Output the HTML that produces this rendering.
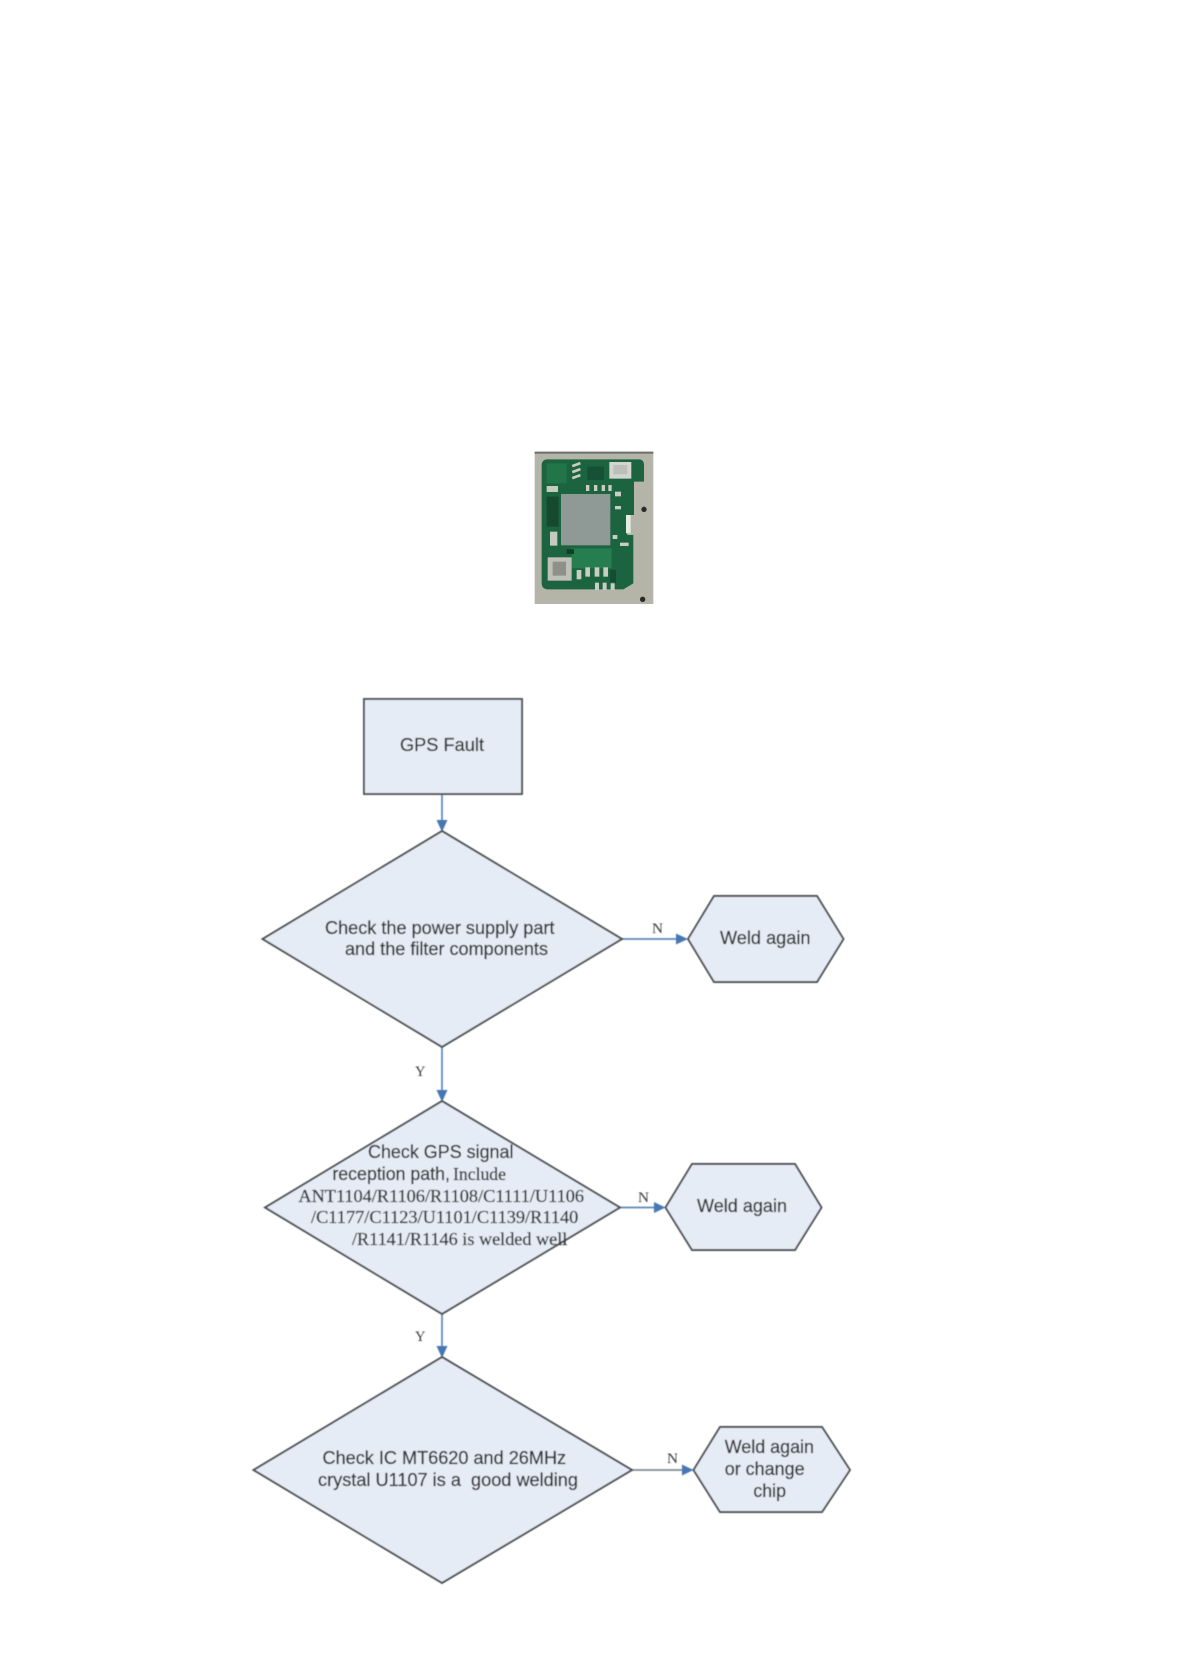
<!DOCTYPE html>
<html>
<head>
<meta charset="utf-8">
<title>GPS Fault flowchart</title>
<style>
html,body{margin:0;padding:0;background:#fff;}
svg{display:block;}
.s{font-family:"Liberation Sans",sans-serif;font-size:18px;fill:#33373b;stroke:#33373b;stroke-width:.3;}
.r{font-family:"Liberation Serif",serif;font-size:18px;fill:#33373b;stroke:#33373b;stroke-width:.3;}
.l{font-family:"Liberation Serif",serif;font-size:15px;fill:#3a3a3a;}
.shape{fill:#e6ecf5;stroke:#4c4f52;stroke-width:1.9;}
.line{stroke:#5b86b8;stroke-width:1.7;fill:none;}
.head{fill:#4677b3;}
</style>
</head>
<body>
<svg width="1188" height="1680" viewBox="0 0 1188 1680" xmlns="http://www.w3.org/2000/svg">
<defs>
<filter id="b" x="-5%" y="-5%" width="110%" height="110%"><feGaussianBlur stdDeviation="0.5"/></filter>
<filter id="c" x="-5%" y="-5%" width="110%" height="110%"><feGaussianBlur stdDeviation="1.1"/></filter>
</defs>
<rect width="1188" height="1680" fill="#fff"/>

<!-- module photo drawn with shapes -->
<g transform="translate(500,420) scale(0.3333)" filter="url(#c)">
<rect x="104" y="95" width="356" height="457" fill="#b4b5a8"/>
<rect x="104" y="95" width="356" height="6" fill="#6d6f66"/>
<path d="M140 118 H420 Q432 120 432 135 V185 H402 V285 H382 V345 H400 V490 L370 508 H140 Q125 505 125 490 V135 Q125 120 140 118 Z" fill="#1a6340"/>
<rect x="140" y="130" width="60" height="60" fill="#2a7d4f" opacity=".7"/>
<rect x="215" y="385" width="120" height="60" fill="#2a8352" opacity=".8"/>
<rect x="328" y="126" width="66" height="50" fill="#d3d5cf"/>
<rect x="340" y="135" width="42" height="28" fill="#bcbfba"/>
<rect x="183" y="222" width="148" height="154" fill="#8f9996"/>
<rect x="143" y="412" width="72" height="70" fill="#bfc1b8"/>
<rect x="158" y="425" width="40" height="42" fill="#8e918a"/>
<rect x="140" y="198" width="34" height="18" fill="#c5cbbd"/>
<rect x="150" y="335" width="22" height="42" fill="#c4cabd"/>
<rect x="378" y="285" width="14" height="55" fill="#e6ece0"/>
<g fill="#c9cdc2">
<rect x="216" y="130" width="26" height="8" transform="rotate(-20 229 134)"/>
<rect x="216" y="148" width="26" height="8" transform="rotate(-20 229 152)"/>
<rect x="216" y="166" width="26" height="8" transform="rotate(-20 229 170)"/>
<rect x="258" y="195" width="10" height="18"/><rect x="282" y="195" width="10" height="18"/><rect x="305" y="195" width="10" height="18"/><rect x="325" y="195" width="10" height="18"/>
<rect x="345" y="215" width="18" height="14"/><rect x="345" y="258" width="18" height="10"/>
<rect x="230" y="450" width="14" height="28"/><rect x="256" y="442" width="14" height="28"/><rect x="284" y="442" width="14" height="28"/><rect x="310" y="442" width="14" height="28"/>
<rect x="285" y="488" width="12" height="22"/><rect x="308" y="488" width="12" height="22"/><rect x="332" y="488" width="12" height="22"/>
<rect x="360" y="368" width="26" height="10"/>
<rect x="338" y="345" width="14" height="12"/>
</g>
<g fill="#0f3f28">
<rect x="140" y="230" width="36" height="90" opacity=".7"/>
<rect x="200" y="388" width="22" height="14"/>
<rect x="262" y="140" width="50" height="40" opacity=".5"/>
<rect x="330" y="450" width="18" height="40" opacity=".6"/>
</g>
<circle cx="432" cy="268" r="8" fill="#2a2a26"/>
<circle cx="428" cy="538" r="8" fill="#2a2a26"/>
</g>

<g filter="url(#b)">
<!-- connectors -->
<path class="line" d="M442 794V822"/>
<path class="head" d="M436.500 820H447.500L442 832Z"/>
<path class="line" d="M622 939H678"/>
<path class="head" d="M676 933.500V944.500L688 939Z"/>
<path class="line" d="M442 1047V1092"/>
<path class="head" d="M436.500 1090H447.500L442 1102Z"/>
<path class="line" d="M620 1207.500H655"/>
<path class="head" d="M654 1202V1213L665.500 1207.500Z"/>
<path class="line" d="M442 1314V1347"/>
<path class="head" d="M436.500 1346H447.500L442 1358Z"/>
<path d="M632 1470H683" fill="none" stroke="#7d8a98" stroke-width="1.7"/>
<path class="head" d="M682 1464.500V1475.500L693.500 1470Z"/>

<!-- shapes -->
<rect class="shape" x="364" y="699" width="158" height="95"/>
<polygon class="shape" points="442,831 622,939 442,1047 262.500,939"/>
<polygon class="shape" points="688,939 714,896 817,896 843.500,939 817,982 714,982"/>
<polygon class="shape" points="442,1101 620,1207.500 442,1314 265,1207.500"/>
<polygon class="shape" points="665.500,1207.500 692,1164 795,1164 821.500,1207.500 795,1250 692,1250"/>
<polygon class="shape" points="442,1357 632,1470 442,1583 253.500,1470"/>
<polygon class="shape" points="693.500,1470 720,1427 822,1427 850,1470 822,1512 720,1512"/>

<!-- text -->
<text class="s" x="400" y="751" textLength="84" lengthAdjust="spacingAndGlyphs">GPS Fault</text>
<text class="s" x="325" y="934" textLength="229.500" lengthAdjust="spacingAndGlyphs">Check the power supply part</text>
<text class="s" x="345" y="955" textLength="203" lengthAdjust="spacingAndGlyphs">and the filter components</text>
<text class="s" x="720" y="944" textLength="90.500" lengthAdjust="spacingAndGlyphs">Weld again</text>
<text class="l" x="652" y="933" textLength="11" lengthAdjust="spacingAndGlyphs">N</text>
<text class="l" x="415" y="1076" textLength="10.500" lengthAdjust="spacingAndGlyphs">Y</text>

<text class="s" x="368" y="1158" textLength="145.500" lengthAdjust="spacingAndGlyphs">Check GPS signal</text>
<text class="s" x="332.400" y="1180" textLength="117.500" lengthAdjust="spacingAndGlyphs">reception path,</text>
<text class="r" x="453" y="1180" textLength="53" lengthAdjust="spacingAndGlyphs">Include</text>
<text class="r" x="298.400" y="1202" textLength="285.600" lengthAdjust="spacingAndGlyphs">ANT1104/R1106/R1108/C1111/U1106</text>
<text class="r" x="311" y="1223" textLength="267.300" lengthAdjust="spacingAndGlyphs">/C1177/C1123/U1101/C1139/R1140</text>
<text class="r" x="352" y="1245" textLength="215.300" lengthAdjust="spacingAndGlyphs">/R1141/R1146 is welded well</text>
<text class="l" x="638" y="1202" textLength="11" lengthAdjust="spacingAndGlyphs">N</text>
<text class="l" x="415" y="1341" textLength="10.500" lengthAdjust="spacingAndGlyphs">Y</text>
<text class="s" x="697" y="1212" textLength="90" lengthAdjust="spacingAndGlyphs">Weld again</text>

<text class="s" x="322.500" y="1464" textLength="243.600" lengthAdjust="spacingAndGlyphs">Check IC MT6620 and 26MHz</text>
<text class="s" x="318" y="1486" textLength="260" lengthAdjust="spacingAndGlyphs" xml:space="preserve">crystal U1107 is a  good welding</text>
<text class="l" x="667" y="1463" textLength="11" lengthAdjust="spacingAndGlyphs">N</text>
<text class="s" x="724.700" y="1453" textLength="89.300" lengthAdjust="spacingAndGlyphs">Weld again</text>
<text class="s" x="724.700" y="1475" textLength="80" lengthAdjust="spacingAndGlyphs">or change</text>
<text class="s" x="753.400" y="1497" textLength="32.600" lengthAdjust="spacingAndGlyphs">chip</text>
</g>
</svg>
</body>
</html>
